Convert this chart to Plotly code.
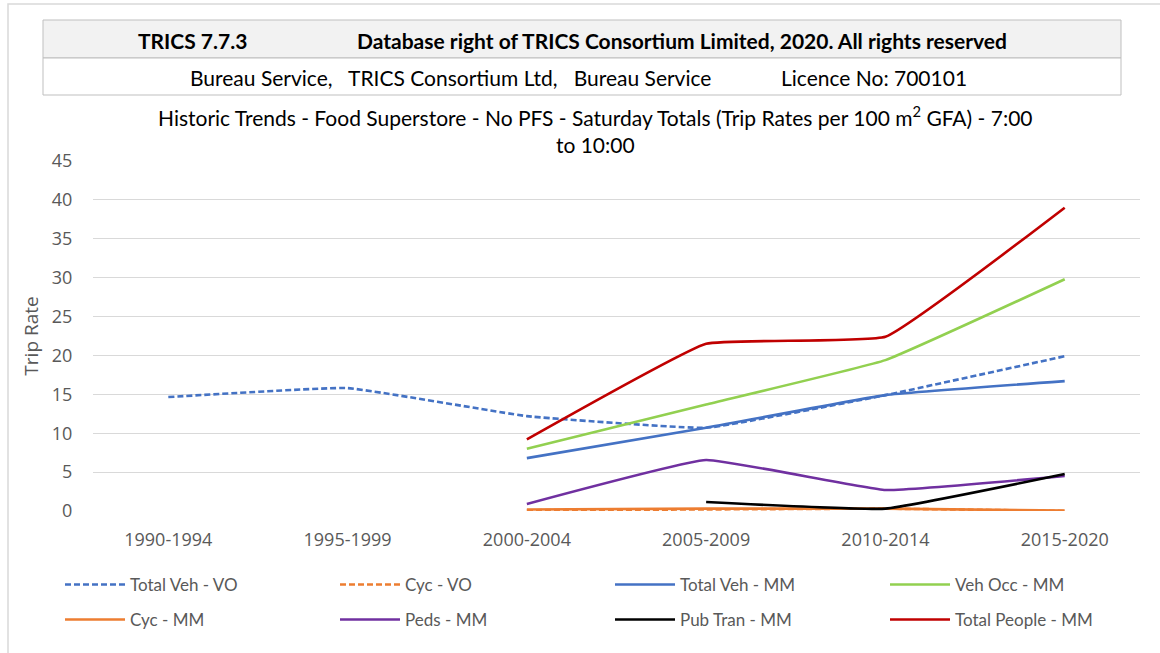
import plotly.graph_objects as go

categories = ["1990-1994", "1995-1999", "2000-2004", "2005-2009", "2010-2014", "2015-2020"]
total_veh_vo = [14.65, 15.8, 12.2, 10.7, 14.9, 19.9]
cyc_vo = [None, None, 0.1, 0.2, 0.3, 0.0]
total_veh_mm = [None, None, 6.8, 10.7, 14.9, 16.7]
veh_occ_mm = [None, None, 8.0, 13.7, 19.4, 29.8]
cyc_mm = [None, None, 0.2, 0.3, 0.3, 0.05]
peds_mm = [None, None, 0.9, 6.55, 2.7, 4.5]
pub_tran_mm = [None, None, None, 1.15, 0.3, 4.75]
total_people_mm = [None, None, 9.2, 21.5, 22.4, 39.0]
y_ticks = [0, 5, 10, 15, 20, 25, 30, 35, 40, 45]

series = [
    ("Total Veh - VO", total_veh_vo, "#4472C4", "6px,3px", "legend"),
    ("Cyc - VO", cyc_vo, "#ED7D31", "6px,3px", "legend"),
    ("Total Veh - MM", total_veh_mm, "#4472C4", "solid", "legend"),
    ("Veh Occ - MM", veh_occ_mm, "#92D050", "solid", "legend"),
    ("Cyc - MM", cyc_mm, "#ED7D31", "solid", "legend2"),
    ("Peds - MM", peds_mm, "#7030A0", "solid", "legend2"),
    ("Pub Tran - MM", pub_tran_mm, "#000000", "solid", "legend2"),
    ("Total People - MM", total_people_mm, "#C00000", "solid", "legend2"),
]

W, H = 1160, 653
L, R, T, B = 93, 20, 161, 142
PW = W - L - R
PH = H - T - B

def px(x):
    return (x - L) / PW

def py(y):
    return (H - B - y) / PH

fig = go.Figure()
for name, vals, color, dash, leg in series:
    fig.add_trace(go.Scatter(
        x=categories, y=vals, name=name, mode="lines", legend=leg,
        line=dict(color=color, width=2.6, dash=dash, shape="spline", smoothing=0.3),
        connectgaps=False,
    ))

hdr = "Lato, Open Sans, sans-serif"
shapes = [
    dict(type="rect", xref="paper", yref="paper", x0=px(8), x1=px(1180), y0=py(700), y1=py(4),
         line=dict(color="#d9d9d9", width=1.5), fillcolor="rgba(0,0,0,0)", layer="below"),
    dict(type="rect", xref="paper", yref="paper", x0=px(43), x1=px(1121), y0=py(58), y1=py(20),
         line=dict(color="#bfbfbf", width=1), fillcolor="#f2f2f2", layer="below"),
    dict(type="rect", xref="paper", yref="paper", x0=px(43), x1=px(1121), y0=py(95), y1=py(58),
         line=dict(color="#bfbfbf", width=1), fillcolor="#ffffff", layer="below"),
]

def ann(text, x, y, size=21):
    return dict(text=text, x=px(x), y=py(y), xref="paper", yref="paper",
                xanchor="center", yanchor="middle", align="center", showarrow=False,
                font=dict(family=hdr, size=size, color="#000000"))

annotations = [
    ann("<b>TRICS 7.7.3</b>", 192, 40),
    ann("<b>Database right of TRICS Consortium Limited, 2020. All rights reserved</b>", 682, 40),
    ann("Bureau Service,   TRICS Consortium Ltd,   Bureau Service", 450, 77),
    ann("Licence No: 700101", 874, 77),
    ann("Historic Trends - Food Superstore - No PFS - Saturday Totals (Trip Rates per 100 m<sup>2</sup> GFA) - 7:00<br>to 10:00", 595, 129),
]

legend_common = dict(orientation="h", xref="paper", yref="paper",
                     xanchor="left", yanchor="top",
                     entrywidth=200, entrywidthmode="pixels", itemwidth=60,
                     bgcolor="rgba(0,0,0,0)",
                     font=dict(family=hdr, size=17, color="#595959"))

fig.update_layout(
    width=W, height=H,
    margin=dict(l=L, r=R, t=T, b=B),
    paper_bgcolor="#ffffff", plot_bgcolor="#ffffff",
    showlegend=True,
    shapes=shapes,
    annotations=annotations,
    legend=dict(x=px(66), y=py(567), **legend_common),
    legend2=dict(x=px(66), y=py(602), **legend_common),
    xaxis=dict(range=[-0.42, 5.42], showgrid=False, zeroline=False, showline=False,
               ticks="outside", ticklen=12, tickcolor="rgba(0,0,0,0)",
               tickfont=dict(family="Open Sans, sans-serif", size=18, color="#595959")),
    yaxis=dict(range=[0, 45], tickvals=y_ticks, showgrid=True, gridcolor="#d9d9d9", gridwidth=1,
               zeroline=False, showline=False,
               ticks="outside", ticklen=16, tickcolor="rgba(0,0,0,0)",
               tickfont=dict(family="Open Sans, sans-serif", size=18, color="#595959"),
               title=dict(text="Trip Rate", standoff=8,
                          font=dict(family="Open Sans, sans-serif", size=19, color="#595959"))),
)

fig.write_html("out.html", config={"displayModeBar": False},
               post_script="document.body.style.margin='0';")
